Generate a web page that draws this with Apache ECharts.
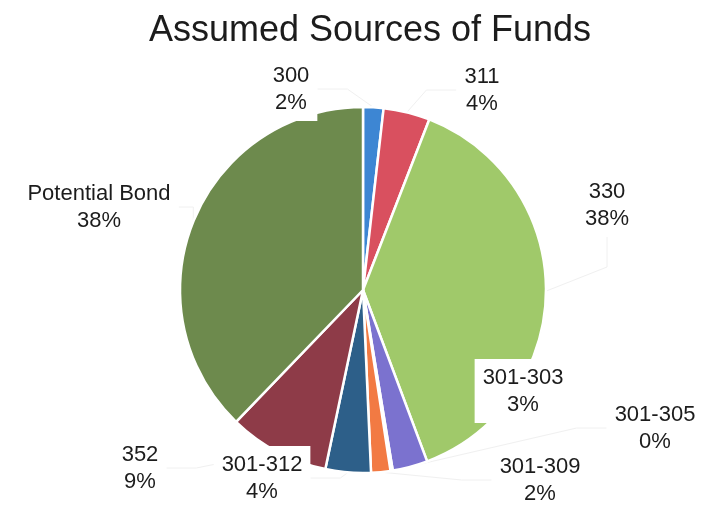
<!DOCTYPE html>
<html>
<head>
<meta charset="utf-8">
<script src="https://cdn.jsdelivr.net/npm/echarts@6/dist/echarts.min.js"></script>
<style>
html,body{margin:0;padding:0;background:#fff;}
#chart{width:701px;height:520px;}
</style>
</head>
<body>
<div id="chart"></div>
<script>
// Data (clockwise from 12 o'clock)
const categories = ['300', '311', '330', '301-303', '301-305', '301-309', '301-312', '352', 'Potential Bond'];
const shares = [1.8, 4.1, 38.4, 3.1, 0.2, 1.7, 4.0, 8.9, 37.8];

// Styling / layout (not data)
const colors = ['#3d86d3', '#d9505f', '#a0c96a', '#7b72cf', '#bbbbbb', '#f27a43', '#2d5f89', '#8e3b48', '#6d8a4d'];
const labelPos = [
  [291, 89], [482, 90], [607, 205], [523, 391], [655, 428],
  [540, 480], [262, 478], [140, 468], [99, 207]
];

const chart = echarts.init(document.getElementById('chart'));
chart.setOption({
  animation: false,
  backgroundColor: '#ffffff',
  title: {
    text: 'Assumed Sources of Funds',
    left: 365,
    top: 8,
    textAlign: 'center',
    textStyle: {
      fontFamily: 'Liberation Sans, Arial, sans-serif',
      fontSize: 36,
      fontWeight: 'normal',
      color: '#1c1c1c'
    }
  },
  series: [{
    type: 'pie',
    center: [363, 290],
    radius: 183,
    startAngle: 90,
    clockwise: true,
    avoidLabelOverlap: false,
    minShowLabelAngle: 0,
    itemStyle: { borderColor: '#ffffff', borderWidth: 2.5 },
    data: categories.map((c, i) => ({
      name: c,
      value: shares[i],
      itemStyle: { color: colors[i] }
    })),
    label: {
      show: true,
      formatter: p => p.name + '\n' + Math.round(p.value) + '%',
      fontFamily: 'Liberation Sans, Arial, sans-serif',
      fontSize: 22,
      lineHeight: 27,
      color: '#1c1c1c',
      backgroundColor: '#ffffff',
      padding: [5, 8],
      align: 'center'
    },
    labelLine: {
      show: true,
      lineStyle: { color: '#f0f0f0', width: 1 }
    },
    labelLayout: function (params) {
      const p = labelPos[params.dataIndex];
      return { x: p[0], y: p[1], align: 'center', verticalAlign: 'middle' };
    }
  }]
});
</script>
</body>
</html>
